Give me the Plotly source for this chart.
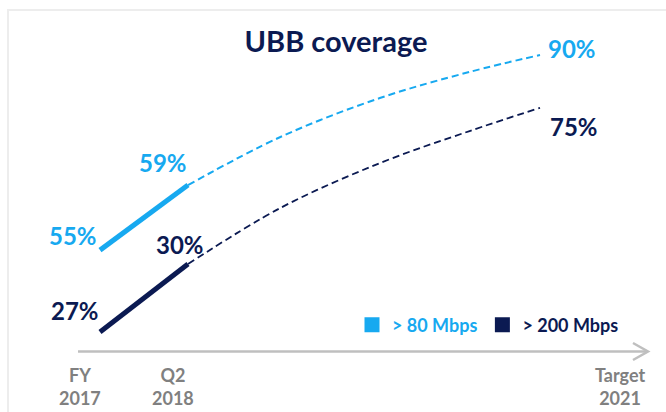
import plotly.graph_objects as go

# ---- data ----
period_labels = ["FY<br>2017", "Q2<br>2018", "Target<br>2021"]
series_names = ["> 80 Mbps", "> 200 Mbps"]
# values shown on the chart (percent)
values_80 = [55, 59, 90]
values_200 = [27, 30, 75]
# schematic positions along the timeline (chart is illustrative, not to scale)
x_actual = [0, 1]
x_target = [1, 2.05, 3.18, 4.2, 5]
# schematic heights (0-100 chart-height units)
level_80_actual = [34.3, 56.2]
level_80_target = [56.2, 72.4, 85.5, 94.3, 100]
level_200_actual = [6.7, 29.6]
level_200_target = [29.6, 48.5, 63.6, 74.4, 82.2]

LIGHT = "#17A9F0"
DARK = "#0B1A52"
GREY_TXT = "#808080"
FONT = "Lato"

W, H = 666, 412
fig = go.Figure()

fig.add_trace(go.Scatter(x=x_actual, y=level_80_actual, mode="lines",
                         line=dict(color=LIGHT, width=5), showlegend=False, hoverinfo="skip"))
fig.add_trace(go.Scatter(x=x_target, y=level_80_target, mode="lines",
                         line=dict(color=LIGHT, width=2, dash="7px,4px", shape="spline"),
                         showlegend=False, hoverinfo="skip"))
fig.add_trace(go.Scatter(x=x_actual, y=level_200_actual, mode="lines",
                         line=dict(color=DARK, width=5), showlegend=False, hoverinfo="skip"))
fig.add_trace(go.Scatter(x=x_target, y=level_200_target, mode="lines",
                         line=dict(color=DARK, width=1.8, dash="7px,4px", shape="spline"),
                         showlegend=False, hoverinfo="skip"))

# legend entries
for name, col in zip(series_names, [LIGHT, DARK]):
    fig.add_trace(go.Scatter(x=[None], y=[None], mode="markers",
                             marker=dict(symbol="square", size=15, color=col),
                             name=f"<b><span style='color:{col}'>{name}</span></b>",
                             showlegend=True, hoverinfo="skip"))

annotations = []
# value labels
pts_80 = [(x_actual[0], level_80_actual[0]), (x_actual[1], level_80_actual[1]),
          (x_target[-1], level_80_target[-1])]
pts_200 = [(x_actual[0], level_200_actual[0]), (x_actual[1], level_200_actual[1]),
           (x_target[-1], level_200_target[-1])]
offs_80 = [(-27, 15), (-25, 23), (32, 7)]
offs_200 = [(-25, 22), (-8, 20), (34, -19)]
for vals, pts, offs, col in [(values_80, pts_80, offs_80, LIGHT),
                             (values_200, pts_200, offs_200, DARK)]:
    for v, (px, py), (dx, dy) in zip(vals, pts, offs):
        annotations.append(dict(x=px, y=py, xref="x", yref="y", text=f"<b>{v}%</b>",
                                showarrow=False, xshift=dx, yshift=dy,
                                font=dict(family=FONT, size=24, color=col)))

# period labels under the timeline
label_px = [80, 173, 620]
for t, px in zip(period_labels, label_px):
    annotations.append(dict(x=px / W, y=1 - 386 / H, xref="paper", yref="paper",
                            text=f"<b>{t}</b>", showarrow=False,
                            font=dict(family=FONT, size=18, color=GREY_TXT),
                            xanchor="center", yanchor="middle"))

shapes = [
    # frame
    dict(type="rect", xref="paper", yref="paper", x0=8 / W, x1=1.2, y0=-0.2, y1=1 - 10 / H,
         line=dict(color="#EDEDED", width=2)),
    # timeline axis
    dict(type="line", xref="paper", yref="paper", x0=78 / W, x1=647 / W,
         y0=1 - 351.5 / H, y1=1 - 351.5 / H, line=dict(color="#BFBFBF", width=2.5)),
    dict(type="path", xref="paper", yref="paper",
         path=f"M {633/W},{1-343/H} L {648/W},{1-351.5/H} L {633/W},{1-360/H}",
         line=dict(color="#BFBFBF", width=2.5)),
]

fig.update_layout(
    width=W, height=H,
    margin=dict(l=0, r=0, t=0, b=0),
    paper_bgcolor="white", plot_bgcolor="white",
    xaxis=dict(range=[-100 / 88, (W - 100) / 88], visible=False, fixedrange=True),
    yaxis=dict(range=[(352 - H) / 2.97, 352 / 2.97], visible=False, fixedrange=True),
    title=dict(text="<b>UBB coverage</b>", x=336 / W, y=1 - 42 / H, xanchor="center",
               yanchor="middle", font=dict(family=FONT, size=29, color=DARK)),
    annotations=annotations,
    shapes=shapes,
    showlegend=True,
    legend=dict(orientation="h", x=352 / W, y=1 - 325 / H, xanchor="left", yanchor="middle",
                font=dict(family=FONT, size=18), bgcolor="rgba(0,0,0,0)",
                itemclick=False, itemdoubleclick=False),
)

fig.write_html("out.html", config={"displayModeBar": False},
               post_script="document.body.style.margin='0px';document.body.style.overflow='hidden';")
